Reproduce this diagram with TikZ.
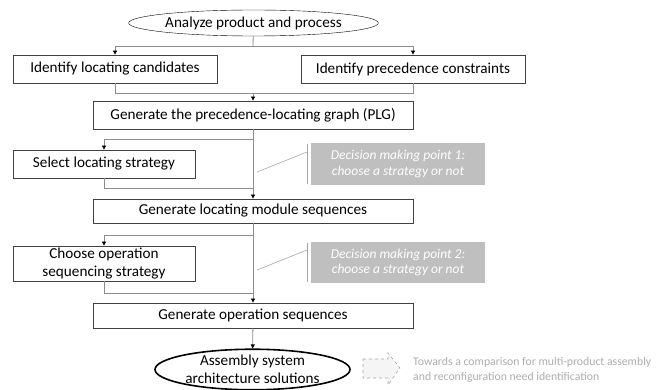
\documentclass[tikz,border=0pt]{standalone}
\usepackage{fontspec}
\setmainfont{Carlito}
\usetikzlibrary{arrows.meta, shapes.geometric}

\begin{document}
\begin{tikzpicture}[x=1pt, y=-1pt]
        \tikzset{step box/.style = {shape=rectangle, draw=black!75, line width=0.8pt, inner sep=0pt, font=\fontsize{15.2}{18}\selectfont, align=center}}
        \tikzset{terminal/.style = {shape=ellipse, draw=black, inner sep=0pt, font=\fontsize{15.2}{18}\selectfont, align=center}}
        \tikzset{decision/.style = {shape=rectangle, fill=black!25, inner sep=0pt, text=white, font=\fontsize{13.5}{15.5}\selectfont\itshape, align=center}}
        \tikzset{edge/.style = {draw=black!45, line width=0.8pt}}
        \tikzset{arrow/.style = {edge, -{Triangle[length=4pt, width=4pt, color=black]}}}
        \useasboundingbox (0,0) rectangle (667,390);

        \node[terminal, minimum width=227pt, minimum height=26pt] (analyze) at (253.5, 23) {Analyze product and process};
        \node[step box, minimum width=204pt, minimum height=28pt] (cand) at (115, 69) {Identify locating candidates};
        \node[step box, minimum width=224pt, minimum height=28pt] (prec) at (413, 69) {Identify precedence constraints};
        \node[step box, minimum width=320pt, minimum height=28pt] (plg) at (253, 115) {Generate the precedence-locating graph (PLG)};
        \node[step box, minimum width=182pt, minimum height=28pt] (select) at (104, 164) {Select locating strategy};
        \node[step box, minimum width=320pt, minimum height=24pt] (locmod) at (253, 211) {Generate locating module sequences};
        \node[step box, minimum width=182pt, minimum height=35pt] (choose) at (104, 263.5) {Choose operation\\sequencing strategy};
        \node[step box, minimum width=320pt, minimum height=25pt] (genop) at (253, 315.5) {Generate operation sequences};
        \node[terminal, line width=1.6pt, minimum width=195pt, minimum height=38pt] (solutions) at (252.5, 369.5) {Assembly system\\architecture solutions};

        \node[decision, minimum width=174pt, minimum height=42pt] (dmp1) at (398, 164) {Decision making point 1:\\choose a strategy or not};
        \node[decision, minimum width=174pt, minimum height=41pt] (dmp2) at (398, 262.5) {Decision making point 2:\\choose a strategy or not};
        \node[anchor=west, align=left, inner sep=0pt, text=black!32, font=\fontsize{11.75}{14.5}\selectfont] (towards) at (413, 370) {Towards a comparison for multi-product assembly\\and reconfiguration need identification};

        \coordinate (split1) at (253, 46);
        \coordinate (join1) at (253, 93);
        \coordinate (split2) at (253, 139);
        \coordinate (join2) at (253, 188);
        \coordinate (split3) at (253, 235);
        \coordinate (join3) at (253, 293);

        \draw[edge] (analyze) -- (split1);
        \draw[arrow] (split1) -| (cand);
        \draw[arrow] (split1) -| (prec);
        \draw[edge] (cand) |- (join1);
        \draw[edge] (prec) |- (join1);
        \draw[arrow] (join1) -- (plg);

        \draw[arrow] (plg) -- (locmod);
        \draw[arrow] (split2) -| (select);
        \draw[edge] (select) |- (join2);

        \draw[arrow] (locmod) -- (genop);
        \draw[arrow] (split3) -| (choose);
        \draw[edge] (choose) |- (join3);

        \draw[arrow] (genop) -- (solutions);

        % callouts
        \coordinate (bar1a) at (307, 144);
        \coordinate (bar1b) at (307, 184);
        \coordinate (bar2a) at (307, 243);
        \coordinate (bar2b) at (307, 282);
        \draw[draw=black!35, line width=0.8pt] (bar1a) -- (bar1b);
        \draw[draw=black!35, line width=0.8pt] (bar2a) -- (bar2b);
        \draw[draw=black!35, line width=0.6pt] (257, 172) -- (307, 152);
        \draw[draw=black!35, line width=0.6pt] (257, 270) -- (307, 250);

        % dashed arrow
        \draw[draw=black!35, dashed, fill=black!4, line width=0.6pt] (363, 359) -- (388, 359) -- (388, 353) -- (400, 368) -- (388, 385) -- (388, 378) -- (363, 378) -- cycle;
      \end{tikzpicture}
\end{document}
